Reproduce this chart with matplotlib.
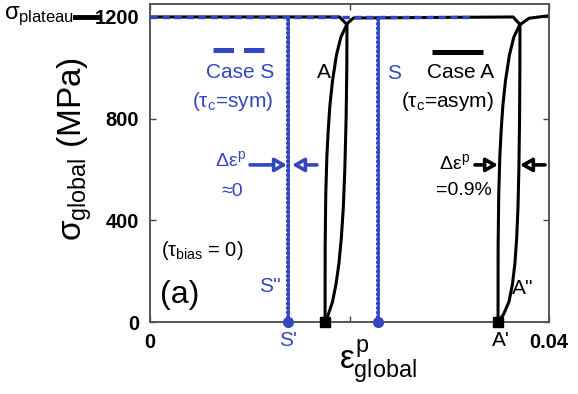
import matplotlib
matplotlib.use("Agg")
import matplotlib.pyplot as plt
from matplotlib.lines import Line2D

plt.rcParams["font.family"] = ["Liberation Sans", "DejaVu Sans"]
plt.rcParams["mathtext.fontset"] = "custom"
plt.rcParams["mathtext.rm"] = "Liberation Sans"
plt.rcParams["mathtext.it"] = "Liberation Sans"
plt.rcParams["mathtext.bf"] = "Liberation Sans:bold"

BLUE = "#3446c0"

# Case S (symmetric tau_c): flat plateau and two vertical drops
s_plateau_strain = [0.0, 0.0324]
s_plateau_stress = [1200, 1200]
s_drop_strain = [0.0138, 0.0229]
s_drop_stress = [0, 1200]

# Case A (asymmetric tau_c): plateau with two small hysteresis loops
a_plateau_strain = [0.0, 0.0190, 0.0197, 0.0204, 0.0364, 0.0371, 0.0380, 0.0400]
a_plateau_stress = [1200, 1200, 1172, 1196, 1200, 1170, 1195, 1205]

reload_stress = [0, 300, 500, 650, 750, 850, 950, 1050, 1120, 1172]
unload_stress = [1172, 1000, 800, 600, 450, 330, 230, 150, 80, 30, 0]
loop1_reload = [0.01755, 0.01756, 0.01762, 0.01773, 0.01786, 0.01803,
                0.01830, 0.01869, 0.01913, 0.01975]
loop1_unload = [0.01975, 0.01973, 0.01966, 0.01953, 0.01938, 0.01918,
                0.01894, 0.01865, 0.01830, 0.01788, 0.01755]
loop2_reload = [0.03489, 0.03490, 0.03496, 0.03507, 0.03520, 0.03537,
                0.03564, 0.03603, 0.03647, 0.03709]
loop2_unload = [0.03709, 0.03708, 0.03705, 0.03698, 0.03689, 0.03676,
                0.03658, 0.03634, 0.03599, 0.03544, 0.03489]

s_points = [0.0138, 0.0229]
a_points = [0.01755, 0.03489]

x_ticks = [0, 0.02, 0.04]
x_ticklabels = ["0", "", "0.04"]
y_ticks = [0, 400, 800, 1200]

fig = plt.figure(figsize=(5.78, 3.94), dpi=100)
ax = fig.add_axes([150 / 578, 1 - 322 / 394, 399 / 578, 318 / 394])

# Case A curves
ax.plot(a_plateau_strain, a_plateau_stress, color="black", lw=2.2, zorder=2)
for up, down in [(loop1_reload, loop1_unload), (loop2_reload, loop2_unload)]:
    ax.plot(up, reload_stress, color="black", lw=2.2, zorder=2)
    ax.plot(down, unload_stress, color="black", lw=2.2, zorder=2)

# Case S curves
ax.plot(s_plateau_strain, s_plateau_stress, color=BLUE, lw=2.4,
        dashes=(2.2, 1.4), zorder=3)
for xs in s_drop_strain:
    ax.plot([xs, xs], s_drop_stress, color=BLUE, lw=1.8, zorder=3)
    ax.plot([xs, xs], s_drop_stress, color=BLUE, lw=3.0, dashes=(0.1, 1.0),
            dash_capstyle="round", zorder=3)

ax.plot(s_points, [0, 0], "o", color=BLUE, ms=7, clip_on=False, zorder=5)
ax.plot(a_points, [0, 0], "s", color="black", ms=7, clip_on=False, zorder=5)

# legend samples
ax.plot([0.0063, 0.0115], [1070, 1070], color=BLUE, lw=3.6, dashes=(4.1, 2.0),
        solid_capstyle="butt", dash_capstyle="butt")
ax.plot([0.0283, 0.0334], [1062, 1062], color="black", lw=3.6,
        solid_capstyle="butt")

fs = 15
ax.text(0.00902, 980, "Case S", color=BLUE, fontsize=fs, ha="center", va="center")
ax.text(0.00832, 866, r"($\tau_c$=sym)", color=BLUE, fontsize=fs, ha="center", va="center")
ax.text(0.0311, 980, "Case A", color="black", fontsize=fs, ha="center", va="center")
ax.text(0.0298, 866, r"($\tau_c$=asym)", color="black", fontsize=fs, ha="center", va="center")
ax.text(0.01744, 980, "A", color="black", fontsize=fs, ha="center", va="center")
ax.text(0.02446, 976, "S", color=BLUE, fontsize=fs, ha="center", va="center")
ax.text(0.00521, 283, r"($\tau_{bias}$ = 0)", color="black", fontsize=14.5,
        ha="center", va="center")
ax.text(0.0030, 106, "(a)", color="black", fontsize=23, ha="center", va="center")
ax.text(0.01203, 138, "S''", color=BLUE, fontsize=fs, ha="center", va="center")
ax.text(0.0374, 130, "A''", color="black", fontsize=fs, ha="center", va="center")
ax.text(0.01383, -71, "S'", color=BLUE, fontsize=fs, ha="center", va="center", clip_on=False)
ax.text(0.0352, -71, "A'", color="black", fontsize=fs, ha="center", va="center", clip_on=False)

ax.text(0.00812, 637, r"$\Delta\varepsilon^p$", color=BLUE, fontsize=14, ha="center", va="center")
ax.text(0.00822, 515, "≈0", color=BLUE, fontsize=14, ha="center", va="center")
ax.text(0.03058, 625, r"$\Delta\varepsilon^p$", color="black", fontsize=14, ha="center", va="center")
ax.text(0.03148, 519, "=0.9%", color="black", fontsize=14, ha="center", va="center")

# arrows marking the loop width
arrow_y = 618
for tail, head, c in [(0.01003, 0.01373, BLUE), (0.01674, 0.01424, BLUE),
                      (0.03258, 0.03489, "black"), (0.0396, 0.03709, "black")]:
    ax.annotate("", xy=(head, arrow_y), xytext=(tail, arrow_y),
                arrowprops=dict(arrowstyle="-|>,head_length=0.7,head_width=0.4",
                                lw=2.6, ec=c, fc="white", shrinkA=0, shrinkB=0,
                                mutation_scale=10))

ax.set_xlim(0, 0.04)
ax.set_ylim(0, 1251)
ax.set_xticks(x_ticks)
ax.set_xticklabels(x_ticklabels)
ax.set_yticks(y_ticks)
ax.tick_params(direction="in", length=4, width=1, top=True, right=True,
               labelsize=14.5, pad=8, color="#444444")
for lab in ax.get_xticklabels() + ax.get_yticklabels():
    lab.set_fontweight("bold")
for sp in ax.spines.values():
    sp.set_color("#555555")
    sp.set_linewidth(1.4)

fig.text(75 / 578, 1 - 149 / 394, r"$\sigma_{global}$ (MPa)", rotation=90,
         fontsize=24, ha="center", va="center")
fig.text(378 / 578, 1 - 362 / 394, r"$\varepsilon^{p}_{global}$",
         fontsize=24, ha="center", va="center")

# plateau marker on the left of the 1200 tick
fig.text(4 / 578, 1 - 16 / 394, r"$\sigma_{plateau}$", fontsize=17,
         ha="left", va="center")
fig.add_artist(Line2D([75 / 578, 97 / 578], [1 - 17 / 394, 1 - 17 / 394],
                      color="black", lw=3.5, transform=fig.transFigure))

fig.savefig("out.png", dpi=100)
